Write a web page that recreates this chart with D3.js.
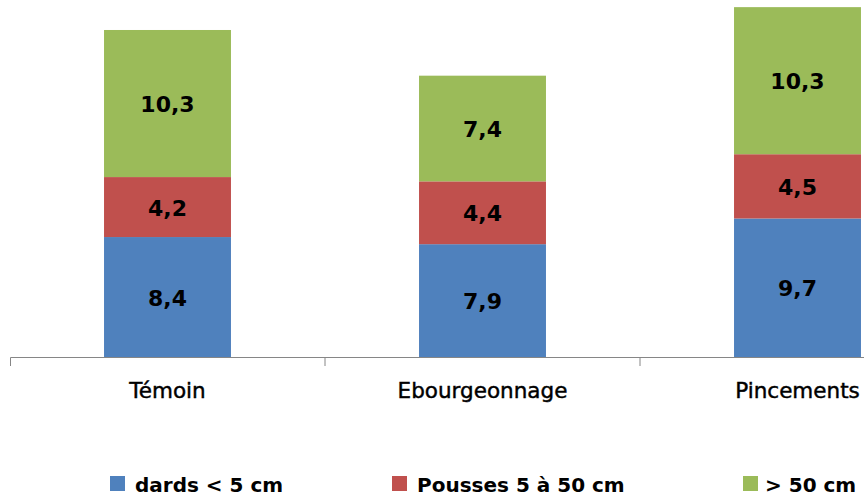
<!DOCTYPE html>
<html><head><meta charset="utf-8">
<script src="https://cdn.jsdelivr.net/npm/d3@7"></script>
<style>body{margin:0;background:#fff}svg{display:block}</style>
</head><body><svg id="c" width="864" height="498"></svg>
<script>
const categories = ["Témoin", "Ebourgeonnage", "Pincements"];
const seriesNames = ["dards < 5 cm", "Pousses 5 à 50 cm", "> 50 cm"];
const dards = [8.4, 7.9, 9.7];
const pousses = [4.2, 4.4, 4.5];
const grandes = [10.3, 7.4, 10.3];
const colors = ["#4F81BD", "#C0504D", "#9BBB59"];

const svg = d3.select("#c");
const x = d3.scaleBand().domain(categories).range([10, 955]).paddingInner(0.597).paddingOuter(0.2985);
const y = d3.scaleLinear().domain([0, 25]).range([357, 0]);

const rows = categories.map((c, i) => ({cat: c, s0: dards[i], s1: pousses[i], s2: grandes[i]}));
const stack = d3.stack().keys(["s0", "s1", "s2"])(rows);

const fmt = v => String(v).replace(".", ",");

stack.forEach((layer, li) => {
  const g = svg.append("g");
  g.selectAll("rect").data(layer).enter().append("rect")
    .attr("x", d => x(d.data.cat))
    .attr("width", x.bandwidth())
    .attr("y", d => y(d[1]))
    .attr("height", d => y(d[0]) - y(d[1]))
    .attr("fill", colors[li]);
  g.selectAll("text").data(layer).enter().append("text")
    .attr("x", d => x(d.data.cat) + x.bandwidth() / 2)
    .attr("y", d => (y(d[0]) + y(d[1])) / 2 + 8.5)
    .attr("text-anchor", "middle")
    .attr("font-family", "DejaVu Sans")
    .attr("font-weight", "bold")
    .attr("font-size", 22)
    .attr("fill", "#000")
    .text(d => fmt(+(d[1] - d[0]).toFixed(1)));
});

// axis
const axis = d3.axisBottom(x).tickSize(0).tickSizeOuter(9).tickPadding(0);
const ag = svg.append("g").attr("transform", "translate(0,357)").call(axis);
ag.select(".domain").attr("stroke", "#868686").attr("stroke-width", 1);
ag.selectAll(".tick text")
  .attr("font-family", "DejaVu Sans")
  .attr("font-size", 21.5)
  .attr("fill", "#000")
  .attr("stroke", "#000").attr("stroke-width", 0.45)
  .attr("dy", 0).attr("y", 41);
// boundary ticks between categories
const bounds = categories.slice(1).map(c => x(c) - x.step() * x.paddingInner() / 2);
svg.append("g").selectAll("line").data(bounds).enter().append("line")
  .attr("x1", d => d).attr("x2", d => d)
  .attr("y1", 357).attr("y2", 366)
  .attr("stroke", "#868686");

// legend
const legX = [110, 392, 743];
const lg = svg.append("g");
seriesNames.forEach((n, i) => {
  lg.append("rect").attr("x", legX[i]).attr("y", 476).attr("width", 15).attr("height", 15).attr("fill", colors[i]);
  lg.append("text").attr("x", legX[i] + (i === 2 ? 22 : 25)).attr("y", 492)
    .attr("font-family", "DejaVu Sans").attr("font-weight", "bold").attr("font-size", 20)
    .attr("fill", "#000").text(n);
});
</script></body></html>
